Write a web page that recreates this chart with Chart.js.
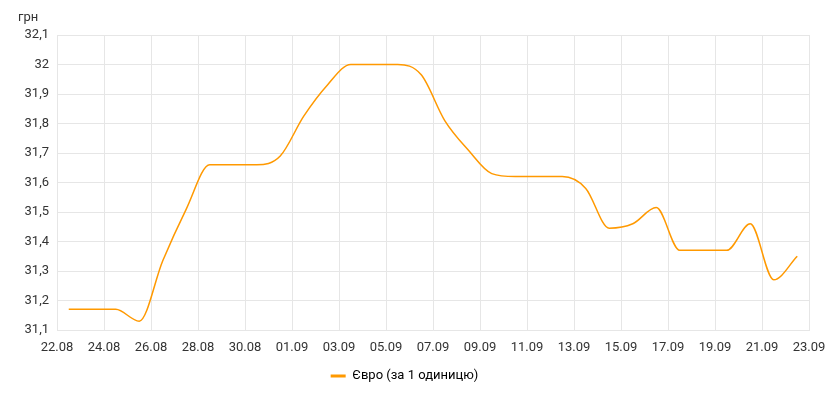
<!DOCTYPE html>
<html>
<head>
<meta charset="utf-8">
<script src="https://cdn.jsdelivr.net/npm/chart.js@4/dist/chart.umd.min.js"></script>
<style>
    html, body { margin: 0; padding: 0; background: #fff; }
    #wrap { width: 829px; height: 400px; position: relative; }
</style>
</head>
<body>
<div id="wrap"><canvas id="rateChart" width="829" height="400"></canvas></div>
<script>
// one point per day, 22.08 - 22.09
const dates = ['22.08', '23.08', '24.08', '25.08', '26.08', '27.08', '28.08', '29.08', '30.08', '31.08',
    '01.09', '02.09', '03.09', '04.09', '05.09', '06.09', '07.09', '08.09', '09.09', '10.09',
    '11.09', '12.09', '13.09', '14.09', '15.09', '16.09', '17.09', '18.09', '19.09', '20.09',
    '21.09', '22.09'];
const euroRates = [31.17, 31.17, 31.17, 31.13, 31.335, 31.51, 31.66, 31.66, 31.66, 31.69,
    31.825, 31.93, 32.00, 32.00, 32.00, 31.965, 31.81, 31.71, 31.63, 31.62,
    31.62, 31.62, 31.58, 31.445, 31.46, 31.515, 31.37, 31.37, 31.37, 31.46,
    31.27, 31.35];
const xTickLabels = ['22.08', '24.08', '26.08', '28.08', '30.08', '01.09', '03.09', '05.09', '07.09',
    '09.09', '11.09', '13.09', '15.09', '17.09', '19.09', '21.09', '23.09'];
const yMin = 31.1;
const yMax = 32.1;
const seriesName = 'Євро (за 1 одиницю)';
const unitLabel = 'грн';

const lineColor = '#ff9900';
const textColor = '#333333';
const gridColor = '#e6e6e6';

Chart.defaults.font.family = 'Roboto';
Chart.defaults.font.size = 13;
Chart.defaults.color = textColor;

// "грн" above the value axis
const unitPlugin = {
    id: 'unitLabel',
    afterDraw(chart) {
        const ctx = chart.ctx;
        ctx.save();
        ctx.font = '13px Roboto';
        ctx.fillStyle = textColor;
        ctx.textBaseline = 'middle';
        ctx.textAlign = 'left';
        ctx.fillText(unitLabel, 18, 18);
        ctx.restore();
    }
};

const points = dates.map((d, i) => ({ x: i + 0.5, y: euroRates[i] }));

new Chart(document.getElementById('rateChart'), {
    type: 'line',
    data: {
        datasets: [{
            label: seriesName,
            data: points,
            borderColor: lineColor,
            backgroundColor: lineColor,
            borderWidth: 1.5,
            pointRadius: 0,
            cubicInterpolationMode: 'monotone',
            fill: false
        }]
    },
    options: {
        responsive: false,
        animation: false,
        layout: { padding: { left: 0, right: 20, top: 35, bottom: 7.5 } },
        plugins: {
            tooltip: { enabled: false },
            legend: {
                position: 'bottom',
                labels: {
                    boxWidth: 15,
                    boxHeight: 3,
                    padding: 10,
                    color: textColor,
                    font: { size: 13 },
                    generateLabels: (chart) => [{
                        text: seriesName,
                        fillStyle: lineColor,
                        strokeStyle: lineColor,
                        lineWidth: 0,
                        datasetIndex: 0
                    }]
                }
            }
        },
        scales: {
            x: {
                type: 'linear',
                min: 0,
                max: dates.length,
                afterFit: (scale) => {
                    scale.height = 29.5;
                    scale.paddingLeft = 0;
                    scale.paddingRight = 0;
                },
                afterBuildTicks: (scale) => {
                    scale.ticks = xTickLabels.map((l, i) => ({ value: i * 2 }));
                },
                ticks: {
                    padding: 10,
                    maxRotation: 0,
                    autoSkip: false,
                    callback: (v, i) => xTickLabels[i]
                },
                grid: { color: gridColor, drawTicks: false },
                border: { color: gridColor }
            },
            y: {
                min: yMin,
                max: yMax,
                afterFit: (scale) => {
                    scale.width = 57;
                    scale.paddingTop = 0;
                    scale.paddingBottom = 0;
                },
                ticks: {
                    stepSize: 0.1,
                    padding: 8,
                    callback: (v) => String(Math.round(v * 10) / 10).replace('.', ',')
                },
                grid: { color: gridColor, drawTicks: false },
                border: { color: gridColor }
            }
        }
    },
    plugins: [unitPlugin]
});
</script>
</body>
</html>
